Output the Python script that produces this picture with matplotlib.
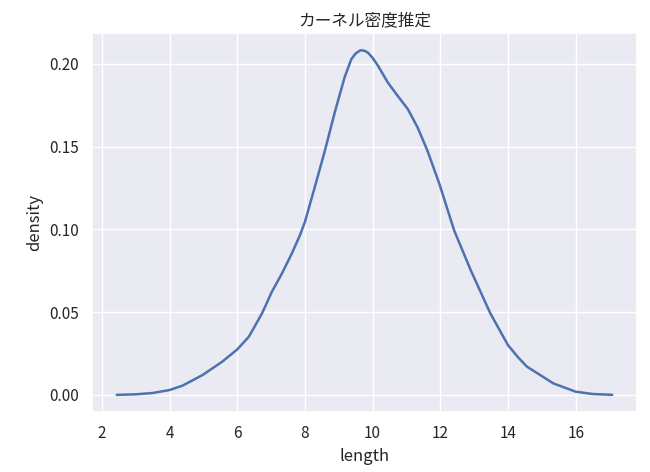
import matplotlib
matplotlib.use("Agg")
import matplotlib.pyplot as plt
import seaborn as sns

# KDE curve (length vs density)
length = [2.44, 3.0, 3.5, 4.0, 4.38, 4.97, 5.55, 6.0, 6.34, 6.5, 6.73, 6.85,
          7.02, 7.32, 7.61, 7.85, 8.0, 8.29, 8.59, 8.88, 9.17, 9.37, 9.5,
          9.64, 9.76, 9.86, 10.0, 10.16, 10.45, 10.74, 11.04, 11.33, 11.62,
          11.98, 12.41, 12.9, 13.48, 14.0, 14.3, 14.56, 15.0, 15.34, 16.0,
          16.5, 17.08]
density = [0.0001, 0.0004, 0.0012, 0.003, 0.0056, 0.012, 0.020, 0.0275,
           0.0351, 0.0408, 0.0492, 0.0545, 0.0622, 0.0733, 0.0853, 0.0963,
           0.1045, 0.1254, 0.1475, 0.1705, 0.1916, 0.2027, 0.2062, 0.2081,
           0.2078, 0.2067, 0.2035, 0.1987, 0.1886, 0.1806, 0.1726, 0.1615,
           0.1475, 0.127, 0.0993, 0.0753, 0.0492, 0.0301, 0.0227, 0.0171,
           0.0114, 0.0070, 0.0020, 0.0006, 0.0001]

sns.set_theme(style="darkgrid")
plt.rcParams["font.family"] = ["Noto Sans CJK JP", "DejaVu Sans"]

fig = plt.figure(figsize=(6.5, 4.72), dpi=100)
ax = fig.add_axes([0.1415, 0.127, 0.8385, 0.803])
ax.plot(length, density, color="#4c72b0", linewidth=1.8)
ax.set_xticks([2, 4, 6, 8, 10, 12, 14, 16])
ax.set_yticks([0.0, 0.05, 0.10, 0.15, 0.20])
ax.set_yticklabels(["0.00", "0.05", "0.10", "0.15", "0.20"])
ax.set_xlabel("length", fontsize=12)
ax.set_ylabel("density", fontsize=12)
ax.set_title("カーネル密度推定", fontsize=12)
ax.tick_params(labelsize=11)

fig.savefig("out.png", dpi=100)
